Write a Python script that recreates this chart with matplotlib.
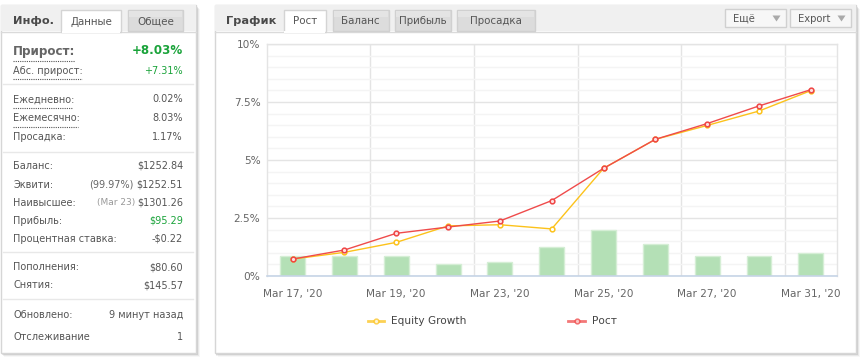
import matplotlib
matplotlib.use("Agg")
import matplotlib.pyplot as plt
from matplotlib.patches import Rectangle, Polygon
from matplotlib.lines import Line2D
from matplotlib.ticker import MultipleLocator, FixedLocator

plt.rcParams['font.family'] = ['DejaVu Sans']

# ---------------- data ----------------
dates = ["Mar 17, '20", "Mar 18, '20", "Mar 19, '20", "Mar 20, '20", "Mar 23, '20", "Mar 24, '20",
         "Mar 25, '20", "Mar 26, '20", "Mar 27, '20", "Mar 30, '20", "Mar 31, '20"]
growth = [0.73, 1.12, 1.84, 2.11, 2.37, 3.25, 4.64, 5.89, 6.57, 7.33, 8.03]
equity = [0.73, 1.02, 1.45, 2.16, 2.21, 2.03, 4.64, 5.89, 6.49, 7.11, 7.99]
bars = [0.85, 0.85, 0.85, 0.50, 0.59, 1.24, 1.97, 1.37, 0.85, 0.85, 0.98]
y_ticks = [0, 2.5, 5, 7.5, 10]
y_tick_labels = ["0%", "2.5%", "5%", "7.5%", "10%"]
series_names = ["Equity Growth", "Рост"]

left_tabs = ["Данные", "Общее"]
chart_tabs = ["Рост", "Баланс", "Прибыль", "Просадка"]
buttons = ["Ещё", "Export"]

info_labels = ["Абс. прирост:", "Ежедневно:", "Ежемесячно:", "Просадка:",
               "Баланс:", "Эквити:", "Наивысшее:", "Прибыль:", "Процентная ставка:",
               "Пополнения:", "Снятия:", "Обновлено:", "Отслеживание"]
info_values = ["+7.31%", "0.02%", "8.03%", "1.17%",
               "$1252.84", "$1252.51", "$1301.26", "$95.29", "-$0.22",
               "$80.60", "$145.57", "9 минут назад", "1"]
info_notes = {"Эквити:": "(99.97%)", "Наивысшее:": "(Mar 23)"}
headline_label = "Прирост:"
headline_value = "+8.03%"

# ---------------- figure ----------------
W, H = 860, 360
fig = plt.figure(figsize=(W / 100, H / 100), dpi=100, facecolor="white")

def fx(x):
    return x / W

def fy(y):
    return 1 - y / H

def rect(x0, y0, x1, y1, **kw):
    r = Rectangle((fx(x0), fy(y1)), (x1 - x0) / W, (y1 - y0) / H,
                  transform=fig.transFigure, **kw)
    fig.add_artist(r)
    return r

def hline(x0, x1, y, **kw):
    fig.add_artist(Line2D([fx(x0), fx(x1)], [fy(y), fy(y)], transform=fig.transFigure, **kw))

def txt(x, y, s, **kw):
    kw.setdefault("va", "center")
    fig.text(fx(x), fy(y), s, **kw)

TEXT = "#555555"
GREEN = "#1aa33a"
BORDER = "#d6d6d6"
HEAD_BG = "#f0f0f0"
FS = 7.05

def panel(x0, y0, x1, y1):
    for i, a in enumerate([0.10, 0.06, 0.03]):
        rect(x0 + 1 + i, y0 + 2 + i, x1 + 2 + i, y1 + 2 + i, facecolor="#000000", alpha=a,
             edgecolor="none", zorder=0)
    rect(x0, y0, x1, y1, facecolor="white", edgecolor=BORDER, linewidth=1, zorder=1)
    rect(x0 + 0.5, y0 + 0.5, x1 - 0.5, 31, facecolor=HEAD_BG, edgecolor="none", zorder=1)
    hline(x0, x1, 31.5, color="#dadada", linewidth=1, zorder=2)

def tab(x0, x1, label, selected):
    if selected:
        rect(x0, 10, x1, 32, facecolor="white", edgecolor="#d4d4d4", linewidth=1, zorder=3)
        rect(x0 + 0.7, 31, x1 - 0.7, 33, facecolor="white", edgecolor="none", zorder=4)
    else:
        rect(x0, 10, x1, 31, facecolor="#dcdcdc", edgecolor="#d0d0d0", linewidth=1, zorder=3)
        rect(x0 + 1, 11, x1 - 1, 17, facecolor="#e4e4e4", edgecolor="none", zorder=3)
    txt((x0 + x1) / 2, 21.5, label, ha="center", fontsize=7.4, color="#555555", zorder=5)

# ---------------- left panel ----------------
panel(0.5, 4.5, 196, 353)
txt(12.5, 20.5, "Инфо.", fontsize=8.2, fontweight="bold", color="#4a4a4a", zorder=5)
tab(61, 121, left_tabs[0], True)
tab(128, 183, left_tabs[1], False)

LX, RX = 13, 183
txt(LX, 51, headline_label, fontsize=8.6, fontweight="bold", color="#666666", zorder=5)
txt(RX, 51, headline_value, fontsize=8.6, fontweight="bold", color=GREEN, ha="right", zorder=5)
hline(LX, 75, 61, color="#555555", linewidth=0.8, linestyle=(0, (1, 1)), zorder=5)

row_y = [70.5, 99.3, 118, 136.7, 165.7, 184.7, 202.7, 220.7, 238.7, 267.3, 285.3, 315, 336.7]
dotted = {"Абс. прирост:": (82, 79), "Ежедневно:": (72, 108), "Ежемесячно:": (78, 127)}
for lab, val, yy in zip(info_labels, info_values, row_y):
    txt(LX, yy, lab, fontsize=FS, color=TEXT, zorder=5)
    col = GREEN if lab in ("Абс. прирост:", "Прибыль:") else TEXT
    txt(RX, yy, val, fontsize=FS, color=col, ha="right", zorder=5)
    if lab in dotted:
        xe, yl = dotted[lab]
        hline(LX, xe, yl, color="#555555", linewidth=0.8, linestyle=(0, (1, 1)), zorder=5)

note_pos = {"Эквити:": (134, 184.7, FS, "#666666"), "Наивысшее:": (135.5, 202.7, 6.5, "#999999")}
for lab, (xr, yy, fs, c) in note_pos.items():
    txt(xr, yy, info_notes[lab], fontsize=fs, color=c, ha="right", zorder=5)

for ys in [84, 151.7, 252.3, 299.3]:
    hline(3, 193, ys, color="#e8e8e8", linewidth=1, zorder=5)

# ---------------- right panel ----------------
panel(214.5, 4.5, 856, 353)
txt(226, 20.5, "График", fontsize=8.2, fontweight="bold", color="#4a4a4a", zorder=5)
tab_x = [(283.5, 326), (332.5, 388.5), (394.5, 451), (457, 535)]
for (a, b), lab, i in zip(tab_x, chart_tabs, range(4)):
    tab(a, b, lab, i == 0)

btn_x = [(724.5, 786), (790, 851)]
for (a, b), lab in zip(btn_x, buttons):
    rect(a, 9.5, b, 26.5, facecolor="#f7f7f7", edgecolor="#d0d0d0", linewidth=1, zorder=3)
    txt(a + 9 if lab == "Ещё" else a + 8, 18.5, lab, fontsize=7.2, color="#555555", zorder=5)
    tx = b - 9.5
    fig.add_artist(Polygon([[fx(tx - 4), fy(15.5)], [fx(tx + 4), fy(15.5)], [fx(tx), fy(21.5)]],
                           closed=True, transform=fig.transFigure, facecolor="#aaaaaa",
                           edgecolor="none", zorder=5))

# ---------------- chart ----------------
L, R, T, B = 266.7, 836.7, 44, 276
ax = fig.add_axes([fx(L), fy(B), (R - L) / W, (B - T) / H], zorder=6)
ax.set_facecolor("none")
x = list(range(len(dates)))
ax.bar(x, bars, width=0.48, color="#b4e0b6", edgecolor="#d5eed5", linewidth=1, zorder=2)
ax.plot(x, equity, color="#fcc21b", linewidth=1.0, marker="o", markersize=3.4,
        markerfacecolor="white", markeredgecolor="#fcc21b", markeredgewidth=1.1, zorder=3,
        label=series_names[0])
ax.plot(x, growth, color="#ef4b4b", linewidth=1.0, marker="o", markersize=3.4,
        markerfacecolor="#fde0e0", markeredgecolor="#ef4444", markeredgewidth=1.1, zorder=4,
        label=series_names[1])

ax.set_xlim(-0.5, len(dates) - 0.5)
ax.set_ylim(0, 10)
ax.yaxis.set_major_locator(FixedLocator(y_ticks))
ax.set_yticklabels(y_tick_labels)
ax.yaxis.set_minor_locator(MultipleLocator(0.5))
ax.xaxis.set_major_locator(FixedLocator(x[::2]))
ax.set_xticklabels(dates[::2])
ax.xaxis.set_minor_locator(FixedLocator([i + 1.5 for i in x[::2][:-1]]))
ax.grid(which="major", axis="y", color="#e4e4e4", linewidth=1, zorder=0)
ax.grid(which="minor", axis="y", color="#f4f4f4", linewidth=1, zorder=0)
ax.grid(which="minor", axis="x", color="#e4e4e4", linewidth=1, zorder=0)
ax.set_axisbelow(True)
for s in ["left", "right", "top"]:
    ax.spines[s].set_color("#e4e4e4")
    ax.spines[s].set_linewidth(1)
ax.spines["bottom"].set_color("#c6d4e6")
ax.spines["bottom"].set_linewidth(1.2)
ax.tick_params(which="both", length=0)
ax.tick_params(axis="y", pad=4.5, labelsize=7.6, labelcolor="#666666")
ax.tick_params(axis="x", pad=9, labelsize=7.6, labelcolor="#666666")

leg = fig.legend(handles=ax.get_lines(), loc="center left", ncol=2,
                 bbox_to_anchor=(fx(358), fy(321.5)), frameon=False, fontsize=7.6,
                 handlelength=1.6, handletextpad=0.6, columnspacing=9.7, labelcolor="#444444")
for h in leg.legend_handles:
    h.set_alpha(0.75)
    h.set_linewidth(2)
leg.set_zorder(7)

fig.savefig("out.png", dpi=100, facecolor="white")
